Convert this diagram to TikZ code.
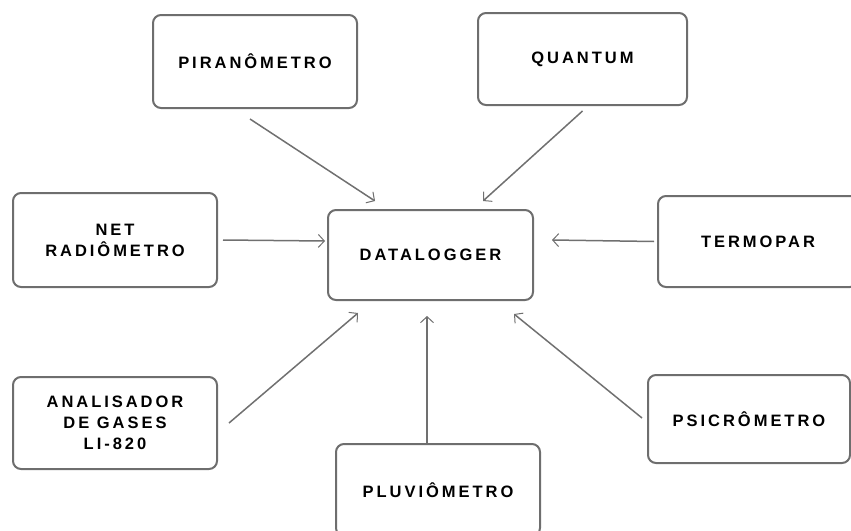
\documentclass[tikz,border=0pt]{standalone}
\usepackage{fontspec}
\setmainfont{Liberation Sans}[LetterSpace=18]
\usetikzlibrary{arrows.meta}
\definecolor{boxgray}{HTML}{6E6E6E}
\definecolor{linegray}{HTML}{707070}
\tikzset{
  unitbox/.style={draw=boxgray, line width=2pt, rounded corners=8pt, fill=white,
    font=\bfseries\fontsize{16.5}{21}\selectfont, align=center, inner sep=0pt},
  feed/.style={draw=linegray, line width=1.5pt, -{Straight Barb[length=6pt,width=13pt,line width=1pt]}}
}
\begin{document}
\begin{tikzpicture}[x=1pt,y=-1pt]
\useasboundingbox (0,0) rectangle (851,530);
\clip (0,0) rectangle (851,530);
\node[unitbox, minimum width=204pt, minimum height=93pt] (pir) at (255,61.5) {PIRANÔMETRO};
\node[unitbox, minimum width=209pt, minimum height=92pt] (qua) at (582.5,59) {QUANTUM};
\node[unitbox, minimum width=204pt, minimum height=94pt] (net) at (115,240) {NET\\RADIÔMETRO};
\node[unitbox, minimum width=205pt, minimum height=90pt] (dat) at (430.5,255) {DATALOGGER};
\node[unitbox, minimum width=200pt, minimum height=91pt] (ter) at (758,241.5) {TERMOPAR};
\node[unitbox, minimum width=204pt, minimum height=92pt] (ana) at (115,423) {ANALISADOR\\DE GASES\\LI-820};
\node[unitbox, minimum width=204pt, minimum height=92pt] (plu) at (438,490) {PLUVIÔMETRO};
\node[unitbox, minimum width=202pt, minimum height=88pt] (psi) at (749,419) {PSICRÔMETRO};
\coordinate (dpir) at (375,201);
\coordinate (dqua) at (483,201);
\coordinate (dnet) at (325,241);
\coordinate (dter) at (552,240);
\coordinate (dana) at (358,313);
\coordinate (dplu) at (427,316);
\coordinate (dpsi) at (514,314);
\draw[feed] ([shift={(-5,10)}]pir.south) -- (dpir);
\draw[feed] ([shift={(0,5)}]qua.south) -- (dqua);
\draw[feed] ([xshift=5pt]net.east) -- (dnet);
\draw[feed] ([xshift=-3pt]ter.west) -- (dter);
\draw[feed] ([xshift=11pt]ana.east) -- (dana);
\draw[feed] (plu.north -| dplu) -- (dplu);
\draw[feed] ([shift={(-5,-1)}]psi.west) -- (dpsi);
\end{tikzpicture}
\end{document}
